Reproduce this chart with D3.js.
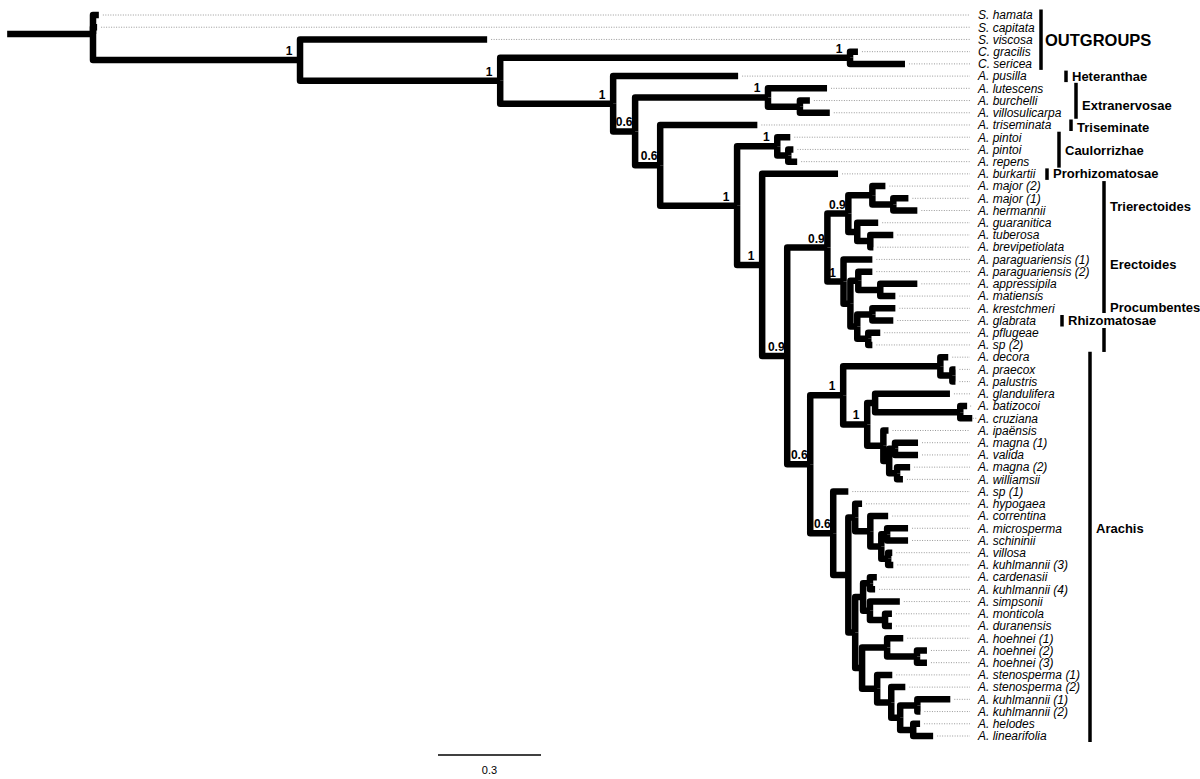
<!DOCTYPE html>
<html>
<head>
<meta charset="utf-8">
<script src="https://cdn.jsdelivr.net/npm/d3@7"></script>
<style>
  body { margin: 0; background: #fff; }
  svg { display: block; font-family: "Liberation Sans", Arial, sans-serif; }
</style>
</head>
<body>
<div id="chart"></div>
<script>
// tree: newick with branch lengths, internal labels = support values
var treeNewick =
  "('S. hamata':0.017,'S. capitata':0.012,('S. viscosa':0.545,(('C. gracilis':0.023,'C. sericea':0.160)1:1.019," +
  "('A. pusilla':0.364,(('A. lutescens':0.172,('A. burchelli':0.029,'A. villosulicarpa':0.087):0.093)1:0.387," +
  "('A. triseminata':0.283,(('A. pintoi':0.038,('A. pintoi':0.015,'A. repens':0.026):0.032)1:0.117," +
  "('A. burkartii':0.221,(" +
    "((('A. major (2)':0.038,('A. major (1)':0.044,'A. hermannii':0.070):0.061):0.070," +
      "('A. guaranitica':0.061,('A. tuberosa':0.067,'A. brevipetiolata':0.009):0.038):0.026)0.9:0.061," +
     "('A. paraguariensis (1)':0.084,(('A. paraguariensis (2)':0.041,('A. appressipila':0.108,'A. matiensis':0.044):0.064):0.023," +
      "(('A. krestchmeri':0.067,'A. glabrata':0.061):0.044,('A. pflugeae':0.035,'A. sp (2)':0.012):0.032):0.020):0.020)1:0.047)0.9:0.117," +
    "((('A. decora':0.023,('A. praecox':0.009,'A. palustris':0.009):0.035):0.283," +
      "(('A. glandulifera':0.218,('A. batizocoi':0.020,'A. cruziana':0.035):0.248):0.023," +
       "('A. ipaënsis':0.015,(('A. magna (1)':0.067,'A. valida':0.067):0.017,('A. magna (2)':0.038,'A. williamsii':0.017):0.023):0.017):0.047)1:0.070)1:0.096," +
     "('A. sp (1)':0.044,(('A. hypogaea':0.020,('A. correntina':0.052,(('A. microsperma':0.061,'A. schininii':0.061):0.017,('A. villosa':0.012,'A. kuhlmannii (3)':0.015):0.020):0.032):0.044):0.020," +
      "((('A. cardenasii':0.020,'A. kuhlmannii (4)':0.015):0.020,('A. simpsonii':0.087,('A. monticola':0.020,'A. duranensis':0.020):0.044):0.020):0.023," +
       "(('A. hoehnei (1)':0.047,('A. hoehnei (2)':0.029,'A. hoehnei (3)':0.029):0.087):0.073," +
        "('A. stenosperma (1)':0.044,('A. stenosperma (2)':0.041,(('A. kuhlmannii (1)':0.096,'A. kuhlmannii (2)':0.009):0.050,('A. helodes':0.020,'A. linearifolia':0.058):0.038):0.026):0.041):0.044):0.020):0.020):0.044)0.6:0.067" +
    ")0.6:0.067)0.9:0.073)1:0.073)1:0.224)0.6:0.073)0.6:0.064)1:0.329)1:0.583)1:0.603);";
var rootEdge = 0.25;

// clade brackets (leaf rows, 0-based)
var cladeNames = ["OUTGROUPS", "Heteranthae", "Extranervosae", "Triseminate", "Caulorrizhae", "Prorhizomatosae", "Rhizomatosae", "Arachis"];
var cladeFirst = [0, 5, 6, 9, 10, 13, 25, 28];
var cladeLast  = [4, 5, 8, 9, 12, 13, 25, 59];
var cladeLabelRow = [2, 5, 7.4, 9.2, 11.1, 13, 25, 42];
// the long bar shared by three sections
var sectionFirst = 14, sectionLast = 27;
var sectionNames = ["Trierectoides", "Erectoides", "Procumbentes"];
var sectionRows = [15.7, 20.4, 23.9];

var scaleBarLength = 0.3;
var scaleBarLabel = "0.3";

// layout
var width = 1200, height = 779;
var cladeBarX = [1041, 1066, 1076, 1071, 1059, 1047, 1062, 1090];
var sectionBarX = 1104;

function parseNewick(s) {
  var tokens = s.match(/'[^']*'|[(),:;]|[^(),:;']+/g);
  var stack = [], cur = {}, root = cur;
  tokens.forEach(function(t, i) {
    if (t === "(") { var c = {}; cur.children = [c]; stack.push(cur); cur = c; }
    else if (t === ",") { var c2 = {}; stack[stack.length - 1].children.push(c2); cur = c2; }
    else if (t === ")") { cur = stack.pop(); }
    else if (t === ":" || t === ";") { }
    else {
      if (tokens[i - 1] === ":") cur.length = +t;
      else cur.name = t.replace(/^'|'$/g, "");
    }
  });
  return root;
}

var root = d3.hierarchy(parseNewick(treeNewick));
root.each(function(d) { d.bl = d.parent ? d.parent.bl + (d.data.length || 0) : 0; });
var leaves = root.leaves();
leaves.forEach(function(d, i) { d.row = i; });
root.eachAfter(function(d) {
  if (d.children) d.row = d3.mean(d.children, function(c) { return c.row; });
});

var x = d3.scaleLinear().domain([0, 1]).range([93, 93 + 103 / 0.3]);
var y = d3.scaleLinear().domain([0, leaves.length - 1]).range([15, 736]);

var svg = d3.select("#chart").append("svg")
  .attr("width", width).attr("height", height);
svg.append("rect").attr("width", width).attr("height", height).attr("fill", "#fff");

// dotted guides
svg.append("g").selectAll("line").data(leaves).join("line")
  .attr("x1", function(d) { return x(d.bl) + 4; })
  .attr("x2", 970)
  .attr("y1", function(d) { return y(d.row); })
  .attr("y2", function(d) { return y(d.row); })
  .attr("stroke", "#999").attr("stroke-width", 1).attr("stroke-dasharray", "1,1.5");

// branches
var g = svg.append("g").attr("fill", "none").attr("stroke", "#000")
  .attr("stroke-width", 6.5).attr("stroke-linejoin", "round");
g.append("path").attr("d", "M" + x(-rootEdge) + "," + y(root.row) + "H" + x(0));
g.selectAll("path.edge").data(root.descendants().slice(1)).join("path")
  .attr("class", "edge")
  .attr("d", function(d) {
    return "M" + x(d.parent.bl) + "," + y(d.parent.row) + "V" + y(d.row) + "H" + x(d.bl);
  });

// support values
svg.append("g").selectAll("text")
  .data(root.descendants().filter(function(d) { return d.children && d.data.name; }))
  .join("text")
  .attr("x", function(d) { return x(d.bl) - 11; })
  .attr("y", function(d) { return y(d.row) - 5; })
  .attr("text-anchor", "middle")
  .style("font-size", "12px").style("font-weight", "bold")
  .text(function(d) { return d.data.name; });

// tip labels
svg.append("g").selectAll("text").data(leaves).join("text")
  .attr("x", 978)
  .attr("y", function(d) { return y(d.row) + 4.3; })
  .style("font-size", "12px").style("font-style", "italic")
  .text(function(d) { return d.data.name; });

// section bar + labels
svg.append("line")
  .attr("x1", sectionBarX).attr("x2", sectionBarX)
  .attr("y1", y(sectionFirst) - 5).attr("y2", y(sectionLast) + 7)
  .attr("stroke", "#000").attr("stroke-width", 3.5);
sectionNames.forEach(function(n, i) {
  svg.append("text").attr("x", sectionBarX + 6).attr("y", y(sectionRows[i]) + 4.5)
    .style("font-size", "13px").style("font-weight", "bold").text(n);
});

// clade bars + labels
cladeNames.forEach(function(n, i) {
  svg.append("line")
    .attr("x1", cladeBarX[i]).attr("x2", cladeBarX[i])
    .attr("y1", y(cladeFirst[i]) - 5.5).attr("y2", y(cladeLast[i]) + 6)
    .attr("stroke", "#000").attr("stroke-width", 3.5);
  var big = n === "OUTGROUPS";
  var t = svg.append("text").attr("x", cladeBarX[i] + (big ? 4 : 6))
    .attr("y", y(cladeLabelRow[i]) + (big ? 6.5 : 4.5))
    .style("font-size", big ? "16.5px" : "13px").style("font-weight", "bold").text(n);
  if (n === "Rhizomatosae") {
    var bb = t.node().getBBox();
    svg.insert("rect", function() { return t.node(); })
      .attr("x", bb.x).attr("y", bb.y).attr("width", bb.width + 2).attr("height", bb.height)
      .attr("fill", "#fff");
  }
});

// scale bar
var sb0 = 438;
svg.append("line")
  .attr("x1", sb0).attr("x2", sb0 + x(scaleBarLength) - x(0))
  .attr("y1", 755).attr("y2", 755)
  .attr("stroke", "#000").attr("stroke-width", 1.5);
svg.append("text")
  .attr("x", sb0 + (x(scaleBarLength) - x(0)) / 2).attr("y", 774)
  .attr("text-anchor", "middle").style("font-size", "11px")
  .text(scaleBarLabel);
</script>
</body>
</html>
